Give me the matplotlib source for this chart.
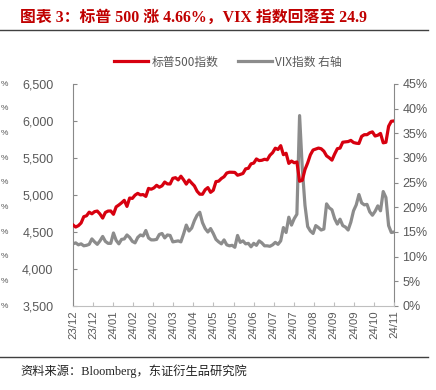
import matplotlib
matplotlib.use("Agg")
import matplotlib.pyplot as plt
import numpy as np
from matplotlib.ticker import FuncFormatter, MultipleLocator

plt.rcParams['font.family'] = ['Liberation Sans', 'Noto Sans CJK SC', 'DejaVu Sans']

# S&P 500 close (approx. every other trading day, Dec 2023 - Nov 2024)
spx = [4595, 4567, 4586, 4622, 4707, 4719, 4768, 4746, 4775, 4783,
       4743, 4688, 4764, 4783, 4784, 4739, 4840, 4865, 4894, 4928, 4846,
       4959, 4954, 4998, 5022, 5001, 5006, 4981, 5089, 5078, 5096,
       5131, 5105, 5124, 5175, 5150, 5149, 5225, 5234, 5204, 5254,
       5205, 5147, 5202, 5161, 5123, 5051, 5011, 5010, 5071, 5100, 5036,
       5064, 5181, 5187, 5223, 5247, 5297, 5308, 5307, 5305, 5267, 5278,
       5291, 5353, 5361, 5421, 5431, 5487, 5465, 5469, 5483,
       5475, 5537, 5572, 5633, 5615, 5667, 5545, 5564, 5427, 5459, 5436,
       5446, 5186, 5199, 5344, 5434, 5543, 5608, 5621, 5634, 5625, 5592,
       5529, 5503, 5471, 5554, 5626, 5634, 5713, 5718, 5722, 5738,
       5709, 5700, 5696, 5792, 5815, 5815, 5841, 5853, 5797, 5808, 5832, 5705,
       5712, 5929, 5996, 6001]

# VIX (%)
vix = [12.6, 12.8, 12.4, 12.6, 12.2, 12.3, 12.5, 13.6, 13.0, 12.5,
       13.2, 14.1, 13.1, 12.7, 12.7, 14.8, 13.3, 12.6, 13.5, 13.6, 14.4,
       13.9, 13.1, 12.8, 13.9, 14.4, 14.2, 15.3, 13.8, 13.4, 13.4,
       13.5, 14.5, 14.7, 13.8, 14.4, 14.3, 13.0, 13.1, 13.2, 13.0,
       14.6, 16.4, 15.2, 15.8, 17.3, 18.4, 19.0, 16.9, 15.7, 15.0, 15.7,
       14.7, 13.5, 13.0, 12.6, 13.4, 12.4, 12.2, 12.3, 11.9, 14.3, 12.9,
       13.2, 12.6, 12.7, 12.0, 12.7, 12.3, 13.2, 12.8, 12.2,
       12.2, 12.1, 12.4, 12.9, 12.5, 13.2, 15.9, 14.9, 18.0, 16.4, 17.7,
       18.6, 38.6, 27.9, 20.4, 16.1, 15.2, 14.7, 16.3, 15.9, 15.4, 15.6,
       20.7, 19.9, 19.5, 17.7, 16.6, 17.6, 16.3, 16.0, 15.4, 17.0,
       19.3, 20.5, 22.6, 20.9, 20.5, 20.6, 19.1, 18.4, 19.2, 20.3, 19.3, 23.2,
       22.0, 16.3, 14.9, 15.0]

xlabels = ['23/12', '23/12', '24/01', '24/02', '24/02', '24/03', '24/04', '24/05',
           '24/05', '24/06', '24/07', '24/07', '24/08', '24/09', '24/09', '24/10', '24/11']

fig = plt.figure(figsize=(4.36, 3.90), dpi=100)
W, H = 436, 390
ax = fig.add_axes([73 / W, 1 - 306 / H, 321 / W, 222 / H])
ax2 = ax.twinx()

x = np.arange(len(spx))
lr, = ax.plot(x, spx, color='#D7000F', lw=2.3, zorder=3, solid_joinstyle='round')
lg, = ax2.plot(x, vix, color='#8C8C8C', lw=2.3, solid_joinstyle='round')
ax.set_zorder(ax2.get_zorder() + 1)
ax.patch.set_visible(False)

ax.set_xlim(0, len(spx) - 1)
ax.set_ylim(3500, 6500)
ax.yaxis.set_major_locator(MultipleLocator(500))
ax.yaxis.set_major_formatter(FuncFormatter(lambda v, p: f"{v:,.0f}"))
ax2.set_ylim(0, 45)
ax2.yaxis.set_major_locator(MultipleLocator(5))
ax2.yaxis.set_major_formatter(FuncFormatter(lambda v, p: f"{v:.0f}%"))

ticks = np.linspace(0, len(spx) - 1, len(xlabels))
ax.set_xticks(ticks)
ax.set_xticklabels(xlabels, rotation=90, fontsize=8.2, color='#595959')

scol = '#898989'
for a in (ax, ax2):
    for s in a.spines.values():
        s.set_visible(False)
ax.spines['left'].set_visible(True)
ax.spines['left'].set_color(scol)
ax.spines['bottom'].set_visible(True)
ax.spines['bottom'].set_color('#BFBFBF')
ax2.spines['right'].set_visible(True)
ax2.spines['right'].set_color(scol)

ax.tick_params(axis='y', direction='in', length=3, color=scol, labelsize=9, labelcolor='#595959', pad=14)
ax.tick_params(axis='x', direction='in', length=3, color='#BFBFBF', pad=3)
ax2.tick_params(axis='y', direction='out', length=3, color=scol, labelsize=9, labelcolor='#595959', pad=3)

leg = fig.legend([lr, lg], ['标普500指数', 'VIX指数 右轴'], loc='center',
                 bbox_to_anchor=(228 / W, 1 - 62 / H), ncol=2, frameon=False,
                 prop={'family': ['Noto Sans CJK SC'], 'size': 8.5},
                 handlelength=2.9, columnspacing=1.6, handletextpad=0.3)
for t in leg.get_texts():
    t.set_color('#595959')

fig.text(20 / W, 1 - 18 / H, '图表 3：标普 500 涨 4.66%，VIX 指数回落至 24.9',
         family=['Liberation Serif', 'Noto Sans CJK SC'], fontweight='bold',
         fontsize=11.4, color='#C00000', va='center', ha='left')
fig.add_artist(plt.Line2D([0, 428 / W], [1 - 30 / H, 1 - 30 / H], color='#404040', lw=1.0))
fig.add_artist(plt.Line2D([0, 428 / W], [1 - 357 / H, 1 - 357 / H], color='#404040', lw=1.0))
fig.text(20 / W, 1 - 371 / H, '资料来源：Bloomberg，东证衍生品研究院',
         family=['Liberation Serif', 'Noto Sans CJK SC'], fontsize=8.8, color='#222222',
         va='center', ha='left')

# remnants of a neighbouring axis at the far left edge
for i in range(10):
    fig.text(0.5 / W, 1 - (84 + i * 24.7) / H, '%', fontsize=6, color='#595959',
             ha='left', va='center')

fig.savefig('out.png', dpi=100)
